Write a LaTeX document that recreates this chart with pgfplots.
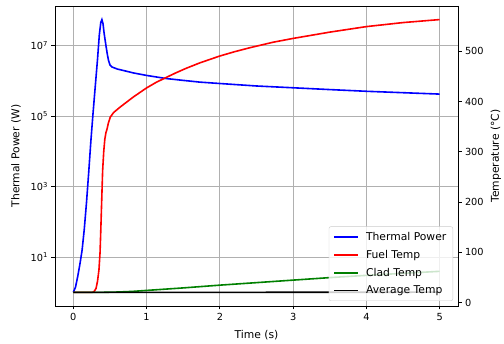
\documentclass[border=0pt]{standalone}
\usepackage{fontspec}
\setmainfont{DejaVu Sans}
\usepackage{pgfplots}
\pgfplotsset{compat=1.18}
\definecolor{gridgray}{RGB}{176,176,176}
\definecolor{legframe}{RGB}{204,204,204}
\definecolor{mplgreen}{RGB}{0,128,0}
\begin{document}
\begin{tikzpicture}
\pgfplotsset{
  common/.style={
    scale only axis, width=403bp, height=300bp,
    xmin=-0.25, xmax=5.25,
    axis line style={black, line width=0.9bp},
    tick style={black, line width=0.9bp},
    tick align=outside,
    major tick length=3.5bp,
    /pgf/number format/assume math mode=true,
    ticklabel style={font=\fontsize{9.8}{11}\selectfont},
    label style={font=\fontsize{10.8}{12}\selectfont},
  }
}
\begin{axis}[common, name=a1,
  ymode=log, ymin=0.411, ymax=1.31e8,
  xtick={0,1,2,3,4,5}, xtick pos=lower,
  ytick={10,1000,100000,10000000},
  yticklabels={10\textsuperscript{1},10\textsuperscript{3},10\textsuperscript{5},10\textsuperscript{7}},
  minor ytick={}, ytick pos=left,
  grid=major, major grid style={gridgray, line width=0.9bp},
  xlabel={Time (s)}, ylabel={Thermal Power (W)},
  xlabel style={at={(axis description cs:0.5,-0.097)}, anchor=center},
  ylabel style={at={(axis description cs:-0.097,0.5)}, anchor=center, rotate=0},
]
\addplot[blue, line width=1.6bp] coordinates {
(0,1) (0.03,1.41) (0.06,2.82) (0.09,6.31) (0.12,15.8) (0.15,63.1) (0.18,355)
(0.21,2512) (0.24,2.0e4) (0.27,1.26e5) (0.30,7.08e5) (0.33,3.98e6) (0.355,2.0e7)
(0.375,4.47e7) (0.39,5.37e7) (0.405,4.17e7) (0.42,2.24e7) (0.445,1.0e7) (0.465,5.5e6)
(0.48,3.8e6) (0.5,2.8e6) (0.527,2.45e6) (0.6,2.14e6) (0.7,1.91e6) (0.82,1.66e6) (1.0,1.41e6)
(1.27,1.15e6) (1.5,1.02e6) (1.73,9.1e5) (2.0,8.32e5) (2.5,7.08e5) (3.0,6.3e5) (3.5,5.6e5)
(4.0,5.01e5) (4.5,4.57e5) (5.0,4.17e5)
};
\end{axis}
\begin{axis}[common,
  ymin=-7, ymax=590,
  hide x axis,
  ytick={0,100,200,300,400,500}, ytick pos=right, yticklabel pos=right,
  ylabel={Temperature (°C)},
  ylabel style={at={(axis description cs:1.094,0.5)}, anchor=center, rotate=0},
  legend cell align=left,
  legend style={at={(axis description cs:0.9876,0.0167)}, anchor=south east,
    draw=legframe, rounded corners=2bp, fill=white, fill opacity=0.8, text opacity=1,
    font=\fontsize{10.8}{12}\selectfont, inner xsep=4.5bp, inner ysep=3.5bp,
    row sep=4.3bp, column sep=5bp},
  legend image code/.code={\draw[#1] (0bp,0bp) -- (24bp,0bp);},
]
\addplot[red, line width=1.6bp, forget plot] coordinates {
(0,20) (0.25,20) (0.28,21) (0.31,28) (0.33,42) (0.35,65) (0.365,100) (0.375,144)
(0.39,215) (0.40,262) (0.415,300) (0.43,325) (0.445,338) (0.46,345) (0.48,358) (0.505,369)
(0.55,378) (0.64,389) (0.73,399) (0.82,409) (0.91,418) (1.0,427) (1.13,438) (1.27,448)
(1.4,457) (1.54,466) (1.73,477) (2.0,490.5) (2.2,499) (2.41,507) (2.73,518) (3.0,525.5)
(3.5,538) (4.0,549) (4.5,557) (5.0,563)
};
\addplot[mplgreen, line width=1.6bp, forget plot] coordinates {
(0,20) (0.4,20.2) (0.6,20.8) (0.8,22) (1.0,24) (1.5,29) (2.0,34.5) (2.5,39.5)
(3.0,44.5) (3.5,49.5) (4.0,54) (4.5,58) (5.0,62)
};
\addplot[black, line width=1.6bp, forget plot] coordinates {
(0,20) (1,20.1) (2,20.2) (3,20.3) (4,20.4) (5,20.5)
};
\addlegendimage{blue, line width=1.6bp}
\addlegendentry{Thermal Power}
\addlegendimage{red, line width=1.6bp}
\addlegendentry{Fuel Temp}
\addlegendimage{mplgreen, line width=1.6bp}
\addlegendentry{Clad Temp}
\addlegendimage{black, line width=1.6bp}
\addlegendentry{Average Temp}
\end{axis}
\pgfresetboundingbox
\path[use as bounding box] (a1.south west) ++(-55bp,-38bp) rectangle ++(504bp,344bp);
\end{tikzpicture}
\end{document}
